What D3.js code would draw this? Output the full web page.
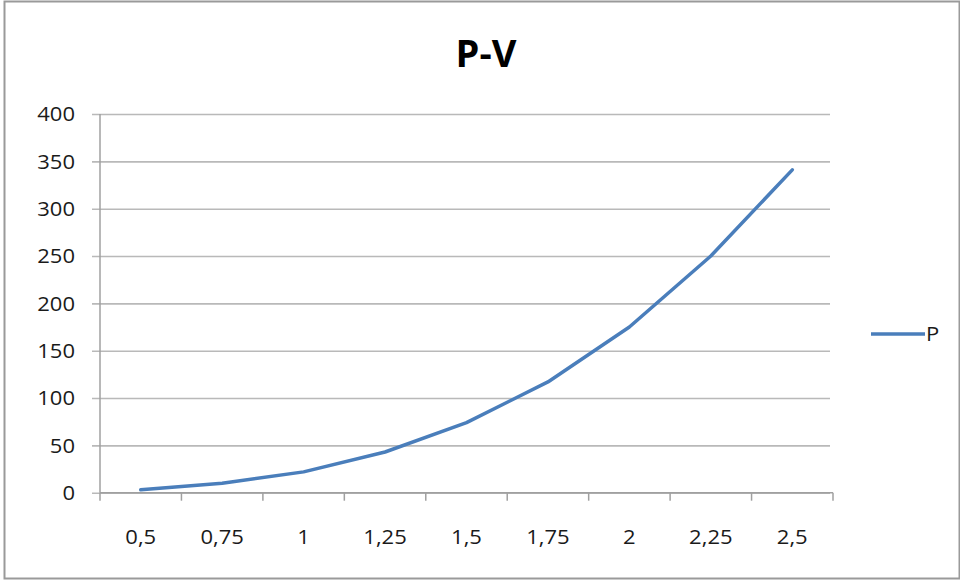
<!DOCTYPE html>
<html>
<head>
<meta charset="utf-8">
<script src="https://cdn.jsdelivr.net/npm/d3@7"></script>
<style>
  html, body { margin: 0; padding: 0; background: #fff; }
  svg { display: block; }
  text { font-family: "Open Sans", "Liberation Sans", sans-serif; fill: #1a1a1a; }
</style>
</head>
<body>
<svg id="chart" width="960" height="581"></svg>
<script>
// Volume categories (axis labels) and pressure values
const volumes = ["0,5", "0,75", "1", "1,25", "1,5", "1,75", "2", "2,25", "2,5"];
const pressure = [3, 10, 22, 43, 74, 117, 175, 250, 341];
const yTicks = [0, 50, 100, 150, 200, 250, 300, 350, 400];
const seriesName = "P";
const chartTitle = "P-V";

const svg = d3.select("#chart");
const W = 960, H = 581;
const plot = { left: 100, right: 833, top: 114, bottom: 492.7 };
const textStretch = 1.1;

// outer frame
svg.append("rect")
  .attr("x", 4.5).attr("y", 1.5)
  .attr("width", W - 5).attr("height", H - 4)
  .attr("fill", "#fff")
  .attr("stroke", "#9a9a9a")
  .attr("stroke-width", 2);

const x = d3.scaleBand().domain(volumes).range([plot.left, plot.right]).padding(0);
const y = d3.scaleLinear().domain([0, 400]).range([plot.bottom, plot.top]);

// horizontal gridlines with short ticks on the left
const yAxis = d3.axisLeft(y)
  .tickValues(yTicks)
  .tickSize(-(plot.right - 3 - plot.left))
  .tickSizeOuter(0)
  .tickFormat("");
const gy = svg.append("g").attr("transform", `translate(${plot.left},0)`).call(yAxis);
gy.select(".domain").remove();
gy.selectAll(".tick line")
  .attr("x1", -8)
  .attr("stroke", "#b9b9b9")
  .attr("stroke-width", 1.6);

// y tick labels
svg.append("g").selectAll("text")
  .data(yTicks)
  .join("text")
  .attr("transform", d => `translate(75,${y(d)}) scale(${textStretch},1)`)
  .attr("text-anchor", "end")
  .attr("dy", "0.36em")
  .style("font-size", "20px")
  .text(d => d);

// vertical axis line
svg.append("line")
  .attr("x1", plot.left).attr("x2", plot.left)
  .attr("y1", plot.top).attr("y2", plot.bottom)
  .attr("stroke", "#a0a0a0").attr("stroke-width", 1.5);

// horizontal axis with tick marks at category boundaries
const bounds = volumes.map(v => x(v)).concat([plot.right]);
svg.append("line")
  .attr("x1", plot.left).attr("x2", plot.right)
  .attr("y1", plot.bottom).attr("y2", plot.bottom)
  .attr("stroke", "#a0a0a0").attr("stroke-width", 1.6);
svg.append("g").selectAll("line")
  .data(bounds)
  .join("line")
  .attr("x1", d => d).attr("x2", d => d)
  .attr("y1", plot.bottom).attr("y2", plot.bottom + 8)
  .attr("stroke", "#a0a0a0").attr("stroke-width", 1.5);

// x tick labels
svg.append("g").selectAll("text")
  .data(volumes)
  .join("text")
  .attr("transform", d => `translate(${x(d) + x.bandwidth() / 2},544) scale(${textStretch},1)`)
  .attr("text-anchor", "middle")
  .style("font-size", "20px")
  .text(d => d);

// series line
const line = d3.line()
  .x((d, i) => x(volumes[i]) + x.bandwidth() / 2)
  .y(d => y(d));
svg.append("path")
  .datum(pressure)
  .attr("d", line)
  .attr("fill", "none")
  .attr("stroke", "#4a7ebb")
  .attr("stroke-width", 3.5)
  .attr("stroke-linejoin", "round")
  .attr("stroke-linecap", "round");

// title
svg.append("text")
  .attr("x", 486).attr("y", 67)
  .attr("text-anchor", "middle")
  .style("font-size", "38px")
  .style("font-weight", "700")
  .style("fill", "#000")
  .text(chartTitle);

// legend
const leg = svg.append("g");
leg.append("line")
  .attr("x1", 871).attr("x2", 925)
  .attr("y1", 334).attr("y2", 334)
  .attr("stroke", "#4a7ebb").attr("stroke-width", 3.5);
leg.append("text")
  .attr("transform", `translate(926,334) scale(${textStretch},1)`)
  .attr("dy", "0.36em")
  .style("font-size", "20px")
  .text(seriesName);
</script>
</body>
</html>
